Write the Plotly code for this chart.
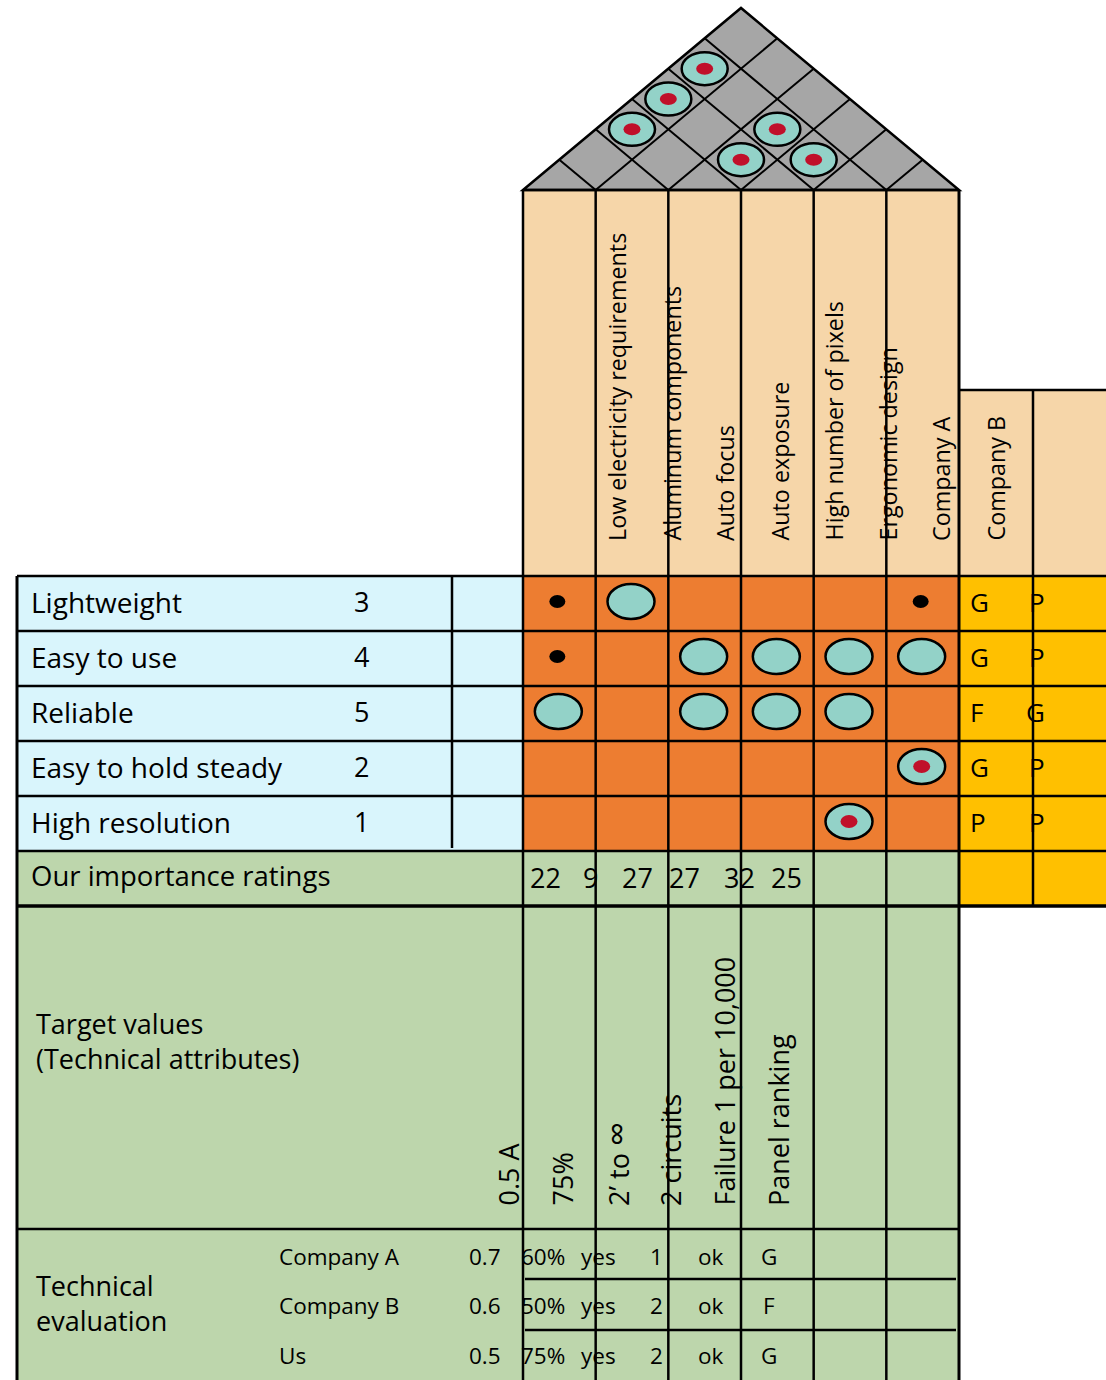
import plotly.graph_objects as go

# ---------------- data ----------------
customer_reqs = ["Lightweight", "Easy to use", "Reliable", "Easy to hold steady", "High resolution"]
customer_importance = ["3", "4", "5", "2", "1"]
header_labels = ["Low electricity requirements", "Aluminum components", "Auto focus",
                 "Auto exposure", "High number of pixels", "Ergonomic design",
                 "Company A", "Company B"]
# relationships: (row, column, kind)
rel_rows = [0, 0, 0, 1, 1, 1, 1, 1, 2, 2, 2, 2, 3, 4]
rel_cols = [0, 1, 5, 0, 2, 3, 4, 5, 0, 2, 3, 4, 5, 4]
rel_kind = ["dot", "circle", "dot", "dot", "circle", "circle", "circle", "circle",
            "circle", "circle", "circle", "circle", "strong", "strong"]
# roof correlations: pairs of technical columns
roof_a = [0, 0, 0, 2, 2, 3]
roof_b = [2, 3, 4, 4, 3, 4]
company_a_eval = ["G", "G", "F", "G", "P"]
company_b_eval = ["P", "P", "G", "P", "P"]
importance_ratings = ["22", "9", "27", "27", "32", "25"]
target_values = ["0.5 A", "75%", "2\u2019 to \u221e", "2 circuits", "Failure 1 per 10,000", "Panel ranking"]
tech_companies = ["Company A", "Company B", "Us"]
tech_eval = [["0.7", "60%", "yes", "1", "ok", "G"],
             ["0.6", "50%", "yes", "2", "ok", "F"],
             ["0.5", "75%", "yes", "2", "ok", "G"]]

# ---------------- layout geometry ----------------
W, H = 1106, 1380
LEFT = 17
MX0 = 523
NCOL = 6
CW = (959 - 523) / NCOL
MX1 = MX0 + CW * NCOL
YB = 1033
ROW_TOP = 576
RH = 55
HDR_TOP = 190
HDR2_TOP = 390
APEX_Y = 8
DIV_X = 452
ROW_END = ROW_TOP + RH * 5          # 851
IMP_END = ROW_END + RH              # 906
TGT_END = 1229
SUB1, SUB2 = 1279, 1330

C_BLUE = "#D9F5FC"
C_ORANGE = "#ED7D31"
C_YELLOW = "#FFC000"
C_TAN = "#F6D6A9"
C_GREEN = "#BDD6AC"
C_TEAL = "#93D2C8"
C_GRAY = "#A6A6A6"
C_RED = "#C0102A"
LW = 2.5
FONT = "Open Sans"

shapes = []
ann = []


def rect(x0, y0, x1, y1, fill):
    shapes.append(dict(type="rect", xref="x", yref="y", x0=x0, y0=y0, x1=x1, y1=y1,
                       fillcolor=fill, line=dict(width=0), layer="above"))


def line(x0, y0, x1, y1, w=LW):
    shapes.append(dict(type="line", xref="x", yref="y", x0=x0, y0=y0, x1=x1, y1=y1,
                       line=dict(color="black", width=w), layer="above"))


def ellipse(cx, cy, w, h, fill, lw=LW):
    shapes.append(dict(type="circle", xref="x", yref="y", x0=cx - w / 2, x1=cx + w / 2,
                       y0=cy - h / 2, y1=cy + h / 2, fillcolor=fill,
                       line=dict(color="black", width=lw) if lw else dict(width=0),
                       layer="above"))


def text(x, y, s, size, xanchor="left", yanchor="middle", angle=0, align="left"):
    ann.append(dict(x=x, y=y, xref="x", yref="y", text=s, showarrow=False,
                    xanchor=xanchor, yanchor=yanchor, textangle=angle, align=align,
                    font=dict(family=FONT, size=size, color="black")))


# ---------------- fills ----------------
rect(LEFT, ROW_TOP, MX0, ROW_END, C_BLUE)
rect(MX0, ROW_TOP, MX1, ROW_END, C_ORANGE)
rect(MX1, ROW_TOP, W, IMP_END, C_YELLOW)
rect(MX0, HDR_TOP, MX1, ROW_TOP, C_TAN)
rect(MX1, HDR2_TOP, W, ROW_TOP, C_TAN)
rect(LEFT, ROW_END, MX1, H, C_GREEN)

# roof
xm = (MX0 + MX1) / 2
shapes.append(dict(type="path", xref="x", yref="y",
                   path=f"M {MX0},{HDR_TOP} L {xm},{APEX_Y} L {MX1},{HDR_TOP} Z",
                   fillcolor=C_GRAY, line=dict(color="black", width=LW), layer="above"))
span = MX1 - MX0
rise = HDR_TOP - APEX_Y
for i in range(1, NCOL):
    xi = MX0 + i * CW
    t = (xi - MX0) / span
    line(xi, HDR_TOP, MX0 + (xi - MX0) / 2, HDR_TOP - t * rise, 2)
    t2 = (MX1 - xi) / span
    line(xi, HDR_TOP, xi + (MX1 - xi) / 2, HDR_TOP - t2 * rise, 2)

# ---------------- grid lines ----------------
for r in range(6):
    y = ROW_TOP + r * RH
    line(LEFT, y, W, y)
line(LEFT, IMP_END, W, IMP_END, 3.5)
line(LEFT, TGT_END, MX1, TGT_END)
line(MX0 + 2, SUB1, MX1 - 3, SUB1)
line(MX0 + 2, SUB2, MX1 - 3, SUB2)
line(MX0, HDR_TOP, MX1, HDR_TOP)
line(MX1, HDR2_TOP, W, HDR2_TOP)
line(LEFT, ROW_TOP, LEFT, H, 3)
line(DIV_X, ROW_TOP, DIV_X, ROW_END - 3)
for i in range(NCOL + 1):
    x = MX0 + i * CW
    line(x, HDR_TOP, x, H, 3 if i == NCOL else LW)
line(YB, HDR2_TOP, YB, IMP_END)

# ---------------- roof symbols ----------------
def col_center(c):
    return MX0 + CW * (c + 0.5)

for a, b in zip(roof_a, roof_b):
    ca, cb = col_center(a), col_center(b)
    cx = (ca + cb) / 2
    cy = HDR_TOP - (cb - ca) / 2 * rise / (span / 2)
    ellipse(cx, cy, 46, 33, C_TEAL)
    ellipse(cx, cy, 17, 12, C_RED, 0)

# ---------------- matrix symbols ----------------
for r, c, k in zip(rel_rows, rel_cols, rel_kind):
    cx = col_center(c) - 1
    cy = ROW_TOP + RH * (r + 0.5) - 2
    if k == "dot":
        ellipse(cx - 1, cy, 16, 13, "black", 0)
    else:
        ellipse(cx, cy, 47, 35, C_TEAL)
        if k == "strong":
            ellipse(cx, cy, 17, 13, C_RED, 0)

# ---------------- texts ----------------
for r, (name, imp) in enumerate(zip(customer_reqs, customer_importance)):
    cy = ROW_TOP + RH * (r + 0.5)
    text(29, cy - 2, name, 28)
    text(361, cy - 2, imp, 27, xanchor="center")
    text(968, cy - 2, company_a_eval[r], 26)
    text(1047, cy - 2, company_b_eval[r], 26, xanchor="right")

# rotated header labels
HDR_LABEL_X0 = 617
LABEL_STEP = 54
for k, s in enumerate(header_labels):
    text(HDR_LABEL_X0 + LABEL_STEP * k, 543, s, 23.3, xanchor="center", yanchor="bottom", angle=-90)

text(29, ROW_END + RH / 2 - 3, "Our importance ratings", 27.5)
IMP_X = [545, 590, 637, 684, 739, 786]
for x, s in zip(IMP_X, importance_ratings):
    text(x, ROW_END + RH / 2 - 1, s, 27, xanchor="center")

text(34, 1041, "Target values<br>(Technical attributes)", 27)
TGT_X0 = 508
for k, s in enumerate(target_values):
    s = s.replace("\u221e", "<span style='font-size:34px'>\u221e</span>")
    text(TGT_X0 + LABEL_STEP * k, 1208, s, 27, xanchor="center", yanchor="bottom", angle=-90)

text(34, 1303, "Technical<br>evaluation", 27)
TE_Y = [1256, 1305, 1355]
TE_X = [485, 543, 598, 656, 711, 769]
for r, comp in enumerate(tech_companies):
    text(277, TE_Y[r], comp, 22.5)
    for x, s in zip(TE_X, tech_eval[r]):
        text(x, TE_Y[r], s, 22.5, xanchor="center")

fig = go.Figure()
fig.add_trace(go.Scatter(x=[0], y=[0], mode="markers", marker=dict(opacity=0), hoverinfo="skip", showlegend=False))
fig.update_layout(
    width=W, height=H, margin=dict(l=0, r=0, t=0, b=0),
    paper_bgcolor="white", plot_bgcolor="white",
    xaxis=dict(range=[0, W], visible=False, fixedrange=True),
    yaxis=dict(range=[H, 0], visible=False, fixedrange=True),
    shapes=shapes, annotations=ann, showlegend=False,
)
fig.write_html("out.html", config={"displayModeBar": False},
               post_script="document.body.style.margin='0px';document.body.style.padding='0px';document.body.style.overflow='hidden';")
